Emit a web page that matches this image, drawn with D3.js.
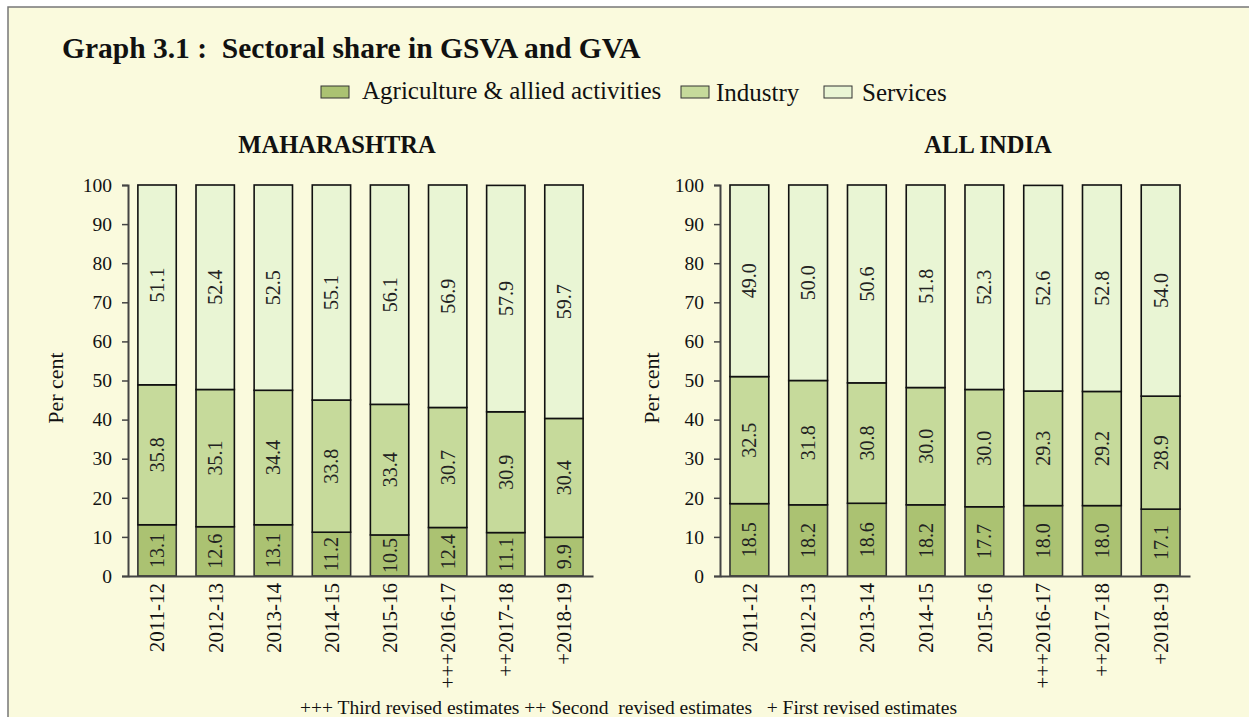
<!DOCTYPE html>
<html lang="en">
<head>
  <meta charset="UTF-8">
  <title>Sectoral share in GSVA and GVA</title>
  <style>
    html, body { margin: 0; padding: 0; width: 100%; height: 100%; overflow: hidden; background: #fff; }
    svg { display: block; }
    text { font-family: "Liberation Serif", "Times New Roman", serif; fill: #111; }
  </style>
</head>
<body>
  <svg id="chart" width="1249" height="717"></svg>

  <script src="https://d3js.org/d3.v7.min.js"></script>
  <script>
    const years = ["2011-12", "2012-13", "2013-14", "2014-15", "2015-16", "2016-17", "2017-18", "2018-19"];
    const yearMarks = ["", "", "", "", "", "+++", "++", "+"];
    const sectors = ["Agriculture & allied activities", "Industry", "Services"];
    const sectorColors = ["#abc272", "#c6da9b", "#e9f5d4"];
    const yTicks = [0, 10, 20, 30, 40, 50, 60, 70, 80, 90, 100];

    const mhAgri = [13.1, 12.6, 13.1, 11.2, 10.5, 12.4, 11.1, 9.9];
    const mhIndustry = [35.8, 35.1, 34.4, 33.8, 33.4, 30.7, 30.9, 30.4];
    const mhServices = [51.1, 52.4, 52.5, 55.1, 56.1, 56.9, 57.9, 59.7];

    const inAgri = [18.5, 18.2, 18.6, 18.2, 17.7, 18.0, 18.0, 17.1];
    const inIndustry = [32.5, 31.8, 30.8, 30.0, 30.0, 29.3, 29.2, 28.9];
    const inServices = [49.0, 50.0, 50.6, 51.8, 52.3, 52.6, 52.8, 54.0];

    const W = 1249, H = 717;
    const svg = d3.select("#chart");

    // background frame (only top and left edges fall inside the picture)
    svg.append("rect").attr("x", 8).attr("y", 7).attr("width", W).attr("height", H)
      .attr("fill", "#fafadd").attr("stroke", "#777").attr("stroke-width", 1.5);

    svg.append("text")
      .attr("x", 62).attr("y", 58)
      .style("font-size", "29.5px").style("font-weight", "bold")
      .attr("xml:space", "preserve")
      .text("Graph 3.1 :  Sectoral share in GSVA and GVA");

    // legend
    const legendItems = [
      { x: 321, tx: 362, label: sectors[0] },
      { x: 681, tx: 716, label: sectors[1] },
      { x: 824, tx: 862, label: sectors[2] }
    ];
    const lg = svg.append("g");
    legendItems.forEach((d, i) => {
      lg.append("rect").attr("x", d.x).attr("y", 86).attr("width", 28).attr("height", 12)
        .attr("fill", sectorColors[i]).attr("stroke", "#333").attr("stroke-width", 1);
      lg.append("text").attr("x", d.tx).attr("y", 99 + (i > 0 ? 2 : 0))
        .style("font-size", "25px").text(d.label);
    });

    function drawPanel(opt) {
      const g = svg.append("g");
      const x = d3.scaleBand().domain(years).range([opt.x0, opt.x1]).paddingInner(0.34).paddingOuter(0.17);
      const y = d3.scaleLinear().domain([0, 100]).range([576, 185]);

      const rows = years.map((yr, i) => ({ year: yr, a: opt.agri[i], b: opt.ind[i], c: opt.serv[i] }));
      const stack = d3.stack().keys(["a", "b", "c"])(rows);

      g.append("text").attr("x", opt.titleX).attr("y", 153).attr("text-anchor", "middle")
        .style("font-size", "24.5px").style("font-weight", "bold").text(opt.title);

      stack.forEach((layer, k) => {
        g.selectAll(null).data(layer).join("rect")
          .attr("x", d => x(d.data.year))
          .attr("y", d => y(Math.min(d[1], 100)))
          .attr("width", x.bandwidth())
          .attr("height", d => y(d[0]) - y(Math.min(d[1], 100)))
          .attr("fill", sectorColors[k])
          .attr("stroke", k === 0 ? "#333" : "#111")
          .attr("stroke-width", 1.6);
      });

      stack.forEach(layer => {
        g.selectAll(null).data(layer).join("text")
          .attr("transform", d => {
            const cx = x(d.data.year) + x.bandwidth() / 2;
            const cy = (y(d[0]) + y(Math.min(d[1], 100))) / 2;
            return `translate(${cx},${cy}) rotate(-90)`;
          })
          .attr("text-anchor", "middle").attr("dy", "0.35em")
          .style("font-size", "20px").style("fill", "#222")
          .text(d => (d[1] - d[0]).toFixed(1));
      });

      const yAxis = g.append("g").attr("transform", `translate(${opt.x0},0)`)
        .call(d3.axisLeft(y).tickValues(yTicks).tickSize(6).tickPadding(10));
      yAxis.select(".domain").attr("stroke", "#444").attr("stroke-width", 2);
      yAxis.selectAll(".tick line").attr("stroke", "#444").attr("stroke-width", 1.5);
      yAxis.selectAll(".tick text").style("font-size", "19.5px")
        .style("font-family", "'Liberation Serif', 'Times New Roman', serif").attr("fill", "#111");

      const xAxis = g.append("g").attr("transform", `translate(0,576)`)
        .call(d3.axisBottom(x).tickSize(0).tickFormat(""));
      xAxis.select(".domain").attr("stroke", "#444").attr("stroke-width", 2);

      g.selectAll(null).data(years).join("text")
        .attr("transform", d => `translate(${x(d) + x.bandwidth() / 2},583) rotate(-90)`)
        .attr("text-anchor", "end").attr("dy", "0.35em")
        .style("font-size", "21px")
        .text((d, i) => yearMarks[i] + d);

      g.append("text")
        .attr("transform", `translate(${opt.labelX},388) rotate(-90)`)
        .attr("text-anchor", "middle").attr("dy", "0.35em")
        .style("font-size", "22px").text("Per cent");
    }

    drawPanel({ x0: 128, x1: 593, titleX: 337, labelX: 55, title: "MAHARASHTRA",
      agri: mhAgri, ind: mhIndustry, serv: mhServices });
    drawPanel({ x0: 720, x1: 1190, titleX: 988, labelX: 651, title: "ALL INDIA",
      agri: inAgri, ind: inIndustry, serv: inServices });

    svg.append("text").attr("x", 300).attr("y", 714)
      .attr("xml:space", "preserve")
      .style("font-size", "19.5px")
      .text("+++ Third revised estimates ++ Second  revised estimates   + First revised estimates");
  </script>
</body>
</html>
